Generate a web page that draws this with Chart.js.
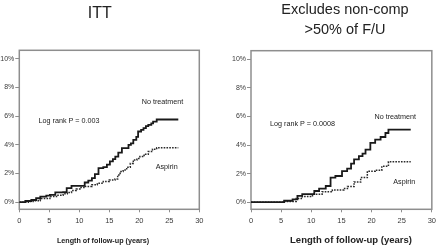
<!DOCTYPE html>
<html><head><meta charset="utf-8">
<script src="https://cdn.jsdelivr.net/npm/chart.js@4"></script>
<style>
html,body{margin:0;padding:0;background:#fff;width:440px;height:246px;overflow:hidden;position:relative;font-family:"Liberation Sans",Arial,sans-serif;color:#222}
canvas{position:absolute;top:0}
#c1{left:0}
#c2{left:222px}
.t{position:absolute;white-space:nowrap;line-height:1}
.c{transform:translate(-50%,-50%)}
.h{transform:translateX(-50%)}
.a{font-size:7.2px;color:#222}
.x{font-weight:bold;color:#222}
</style></head><body>
<canvas id="c1" width="210" height="246" style="width:210px;height:246px"></canvas>
<canvas id="c2" width="218" height="246" style="width:218px;height:246px"></canvas>

<div class="t h" style="left:99.7px;top:4.8px;font-size:16px">ITT</div>
<div class="t h" style="left:345px;top:1.7px;font-size:14.5px">Excludes non-comp</div>
<div class="t h" style="left:345px;top:21.7px;font-size:14.5px">&gt;50% of F/U</div>

<div class="t c a" style="left:162.5px;top:101.7px">No treatment</div>
<div class="t c a" style="left:69px;top:120.7px">Log rank P = 0.003</div>
<div class="t c a" style="left:166.7px;top:166.7px">Aspirin</div>
<div class="t c a" style="left:395.3px;top:116.7px">No treatment</div>
<div class="t c a" style="left:302.5px;top:124.3px">Log rank P = 0.0008</div>
<div class="t c a" style="left:404.3px;top:182px">Aspirin</div>

<div class="t c x" style="left:103px;top:240.7px;font-size:7.2px">Length of follow-up (years)</div>
<div class="t c x" style="left:351px;top:239.5px;font-size:9.5px">Length of follow-up (years)</div>

<script>
// ---- data (years of follow-up, cumulative incidence %) ----
const xTicks = [0, 5, 10, 15, 20, 25, 30];
const yTicks = [0, 2, 4, 6, 8, 10];

const ittNoTreatYears = [0, 1.0, 2.0, 2.8, 3.5, 4.5, 5.1, 6.0, 7.3, 7.9, 8.7, 10.0, 10.9, 11.5, 12.1, 12.6, 13.2, 14.0, 14.6, 15.1, 15.6, 16.0, 16.5, 17.1, 17.6, 18.2, 18.6, 19.0, 19.5, 19.8, 20.3, 20.7, 21.1, 21.5, 22.0, 22.3, 22.9, 26.5];
const ittNoTreatPct   = [0, 0.08, 0.15, 0.27, 0.39, 0.45, 0.51, 0.68, 0.70, 0.98, 1.14, 1.14, 1.37, 1.50, 1.67, 1.95, 2.37, 2.44, 2.62, 2.84, 3.00, 3.18, 3.45, 3.77, 3.77, 4.00, 4.10, 4.35, 4.55, 4.93, 5.05, 5.16, 5.30, 5.39, 5.50, 5.62, 5.77, 5.77];

const ittAspirinYears = [0, 1.5, 2.3, 3.5, 5.1, 6.2, 7.3, 8.0, 8.7, 9.5, 10.1, 11.0, 12.1, 13.0, 14.0, 15.0, 15.95, 16.4, 16.8, 17.3, 17.9, 18.5, 19.0, 19.6, 20.1, 20.8, 21.5, 22.2, 22.9, 26.5];
const ittAspirinPct   = [0, 0.05, 0.10, 0.25, 0.39, 0.48, 0.58, 0.68, 0.81, 0.92, 1.02, 1.10, 1.21, 1.32, 1.44, 1.55, 1.62, 1.90, 2.14, 2.25, 2.44, 2.70, 2.95, 3.05, 3.18, 3.35, 3.53, 3.70, 3.80, 3.80];

const excNoTreatYears = [0, 5.5, 6.9, 7.7, 8.5, 9.6, 10.5, 11.3, 12.4, 13.2, 14.0, 15.1, 15.95, 16.6, 17.1, 17.9, 18.5, 19.0, 19.8, 20.6, 21.5, 22.3, 22.8, 26.5];
const excNoTreatPct   = [0, 0.10, 0.20, 0.44, 0.56, 0.56, 0.78, 0.95, 1.13, 1.72, 1.83, 2.17, 2.34, 2.70, 2.99, 3.22, 3.40, 3.68, 4.15, 4.38, 4.56, 4.84, 5.07, 5.07];

const excAspirinYears = [0, 5.5, 7.5, 8.5, 10.2, 11.8, 13.5, 15.4, 16.0, 17.1, 18.2, 19.3, 20.6, 21.7, 22.8, 26.5];
const excAspirinPct   = [0, 0.05, 0.26, 0.40, 0.56, 0.72, 0.85, 0.95, 1.09, 1.41, 1.72, 2.17, 2.24, 2.52, 2.83, 2.83];

// ---- helpers ----
const toPoints = (xs, ys) => xs.map((x, i) => ({x: x, y: ys[i]}));

const framePlugin = {
  id: 'frame',
  beforeDatasetsDraw(chart) {
    const {ctx, chartArea: a} = chart;
    ctx.save();
    ctx.strokeStyle = '#8e8e8e';
    ctx.lineWidth = 1.5;
    ctx.strokeRect(a.left, a.top, a.right - a.left, a.bottom - a.top);
    ctx.restore();
  }
};

function makeChart(id, noTreat, aspirin, lay) {
  const gridCfg = (len) => ({drawOnChartArea: false, drawTicks: true, tickLength: len, color: '#8e8e8e', lineWidth: 1});
  return new Chart(document.getElementById(id), {
    type: 'line',
    data: {
      datasets: [
        {label: 'No treatment', data: noTreat, stepped: true, borderColor: '#1a1a1a', borderWidth: 1.8, pointRadius: 0, fill: false},
        {label: 'Aspirin', data: aspirin, stepped: true, borderColor: '#2a2a2a', borderWidth: 1.5, borderDash: [1.6, 1.2], pointRadius: 0, fill: false}
      ]
    },
    options: {
      responsive: false,
      animation: false,
      layout: {padding: {left: 0, top: lay.top, right: lay.right, bottom: 0}},
      plugins: {legend: {display: false}, tooltip: {enabled: false}, title: {display: false}},
      scales: {
        x: {
          type: 'linear', min: 0, max: 30,
          afterBuildTicks: s => { s.ticks = xTicks.map(v => ({value: v})); },
          afterFit: s => { s.height = lay.xh; },
          ticks: {font: {family: 'Liberation Sans', size: lay.xfs}, color: '#3a3a3a', padding: lay.xpad, maxRotation: 0},
          grid: gridCfg(3),
          border: {display: false}
        },
        y: {
          type: 'linear', min: -0.5, max: 10.6,
          afterBuildTicks: s => { s.ticks = yTicks.map(v => ({value: v})); },
          afterFit: s => { s.width = lay.yw; },
          ticks: {font: {family: 'Liberation Sans', size: 7}, color: '#3a3a3a', padding: 1, callback: v => v + '%'},
          grid: gridCfg(4),
          border: {display: false}
        }
      }
    },
    plugins: [framePlugin]
  });
}

makeChart('c1', toPoints(ittNoTreatYears, ittNoTreatPct), toPoints(ittAspirinYears, ittAspirinPct),
  {top: 50.3, right: 10.7, xh: 36.7, yw: 19.3, xfs: 7.5, xpad: 4});
makeChart('c2', toPoints(excNoTreatYears, excNoTreatPct), toPoints(excAspirinYears, excAspirinPct),
  {top: 50.7, right: 6.5, xh: 36.7, yw: 29, xfs: 7.5, xpad: 4});
</script>
</body></html>
